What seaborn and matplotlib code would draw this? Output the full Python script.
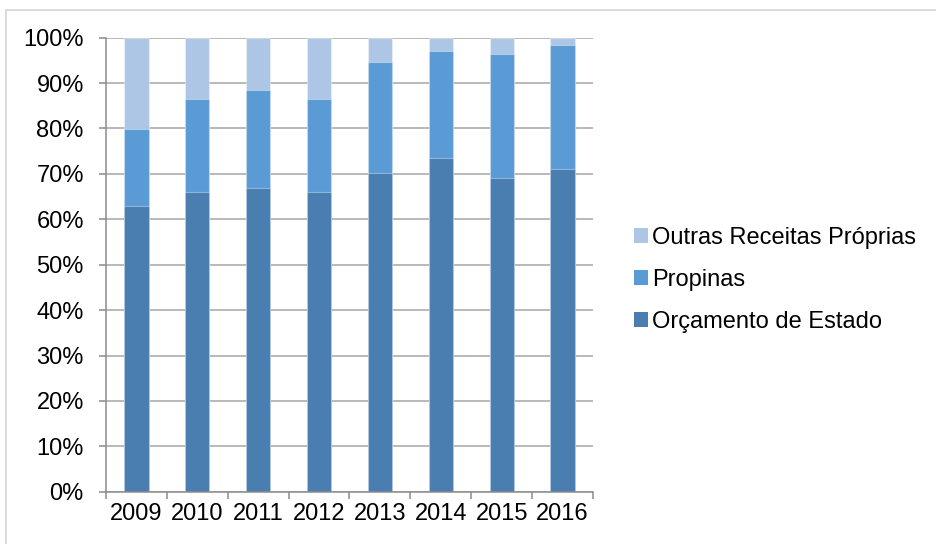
import matplotlib
matplotlib.use("Agg")
import matplotlib.pyplot as plt
from matplotlib.patches import Rectangle, Patch
from matplotlib.ticker import FixedLocator, FuncFormatter
import numpy as np
import pandas as pd
import seaborn as sns

# Estrutura de financiamento (% do total) por ano
anos = ["2009", "2010", "2011", "2012", "2013", "2014", "2015", "2016"]
orcamento_estado = [63.0, 66.1, 67.0, 66.0, 70.3, 73.4, 69.2, 71.1]
propinas = [16.9, 20.4, 21.5, 20.4, 24.4, 23.6, 27.1, 27.4]
outras_receitas = [20.1, 13.5, 11.5, 13.6, 5.3, 3.0, 3.7, 1.5]

series = ["Orçamento de Estado", "Propinas", "Outras Receitas Próprias"]
cores = ["#4A7EB0", "#5B9BD5", "#ADC6E5"]

df = pd.DataFrame({
    "ano": anos,
    "Orçamento de Estado": orcamento_estado,
    "Propinas": propinas,
    "Outras Receitas Próprias": outras_receitas,
})
# topo acumulado de cada segmento empilhado
acum = df[series].cumsum(axis=1)

sns.set_theme(style="white")
plt.rcParams["font.family"] = ["Liberation Sans", "DejaVu Sans"]
plt.rcParams["text.color"] = "#000000"
fs = 17
plt.rcParams["font.size"] = fs

fig = plt.figure(figsize=(9.37, 5.44), dpi=100)
ax = fig.add_axes([106 / 937, 1 - 491.7 / 544, (593 - 106) / 937, (491.7 - 37.7) / 544])

# desenha do segmento superior para o inferior, sobrepondo
for nome, cor in reversed(list(zip(series, cores))):
    sns.barplot(x=df["ano"], y=acum[nome], color=cor, saturation=1, width=0.4,
                edgecolor=(1, 1, 1, 0.35), linewidth=0.8, ax=ax, zorder=3)

ax.set_ylim(0, 100)
ax.set_xlim(-0.5, len(anos) - 0.5)
ax.yaxis.set_major_locator(FixedLocator(np.arange(0, 101, 10)))
ax.yaxis.set_major_formatter(FuncFormatter(lambda v, p: f"{v:.0f}%"))
ax.set_xlabel("")
ax.set_ylabel("")

ax.grid(axis="y", color="#A6A6A6", linewidth=1.1, zorder=0)
ax.grid(axis="x", visible=False)
ax.set_axisbelow(True)

for s in ["top", "right"]:
    ax.spines[s].set_visible(False)
for s in ["left", "bottom"]:
    ax.spines[s].set_color("#8C8C8C")
    ax.spines[s].set_linewidth(1.1)
    ax.spines[s].set_zorder(4)

ax.tick_params(axis="y", which="major", direction="out", length=5, width=1.1,
               color="#8C8C8C", pad=11, labelsize=fs, labelcolor="#000000", left=True)
ax.tick_params(axis="x", which="major", length=0, pad=8, labelsize=fs, labelcolor="#000000")
ax.xaxis.set_minor_locator(FixedLocator(np.arange(-0.5, len(anos), 1.0)))
ax.tick_params(axis="x", which="minor", direction="out", length=5, width=1.1,
               color="#8C8C8C", bottom=True)

# legenda em ordem inversa (segmento superior primeiro)
handles = [Patch(facecolor=c, edgecolor="none") for c in reversed(cores)]
labels = list(reversed(series))
leg = fig.legend(handles, labels, loc="center left", bbox_to_anchor=(634 / 937, 1 - 280 / 544),
                 frameon=False, fontsize=fs, handlelength=0.6, handleheight=0.6,
                 handletextpad=0.15, labelspacing=0.86, borderpad=0, borderaxespad=0)
for t in leg.get_texts():
    t.set_color("#000000")

# moldura da área do gráfico
fig.patches.append(Rectangle((6.5 / 937, -0.5), 2.0, 0.5 + (1 - 9.5 / 544),
                             transform=fig.transFigure, fill=False,
                             edgecolor="#D9D9D9", linewidth=1.3))

fig.savefig("out.png", dpi=100)
